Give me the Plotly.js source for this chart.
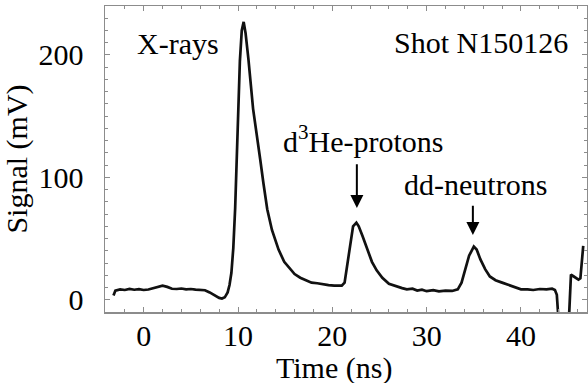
<!DOCTYPE html>
<html>
<head>
<meta charset="utf-8">
<script src="https://cdn.plot.ly/plotly-3.0.1.min.js"></script>
<style>html,body{margin:0;padding:0;background:#fff;}#chart{width:588px;height:383px;}</style>
</head>
<body>
<div id="chart"></div>
<script>
// Time (ns)
const timeNs = [-3.2,-3.0,-2.5,-2.0,-1.5,-1.0,-0.5,0,0.5,1.0,1.5,2.0,2.5,3.0,3.5,4.0,4.5,5.0,5.5,6.0,6.5,7.0,7.5,8.0,8.3,8.6,8.9,
  9.1,9.3,9.5,9.7,9.85,10.0,10.2,10.4,10.6,10.8,11.1,11.6,12.0,12.35,12.7,13.1,13.6,14.3,14.9,15.5,16.0,16.6,17.2,17.8,18.4,19.0,19.6,20.2,21.0,
  21.3,21.6,21.9,22.2,22.55,22.8,23.2,23.7,24.2,24.7,25.3,26.0,26.7,27.4,27.9,28.5,29.0,29.5,30.0,30.7,31.3,32.0,32.7,33.3,
  33.7,34.1,34.5,35.0,35.3,35.7,36.2,36.7,37.3,38.0,38.7,39.4,40.0,40.7,41.3,42.0,42.7,43.3,43.6,43.8,44.1,
  45.0,45.3,45.6,46.1,46.3,46.6];
// Signal (mV)
const signalMv = [3.5,7.5,8.5,8.0,8.8,8.2,8.6,8.0,8.4,9.5,10.5,11.5,10.5,9.0,8.8,9.2,8.5,8.8,8.3,8.0,7.8,6.0,3.5,1.5,1.0,2.0,6.0,
  12,22,42,75,110,155,195,220,227,218,197,156,132,115,95,74,57,41,31,25,21,18,16,14,13.5,12.5,12,11.5,11.5,
  14,30,48,60,63,60,52,41,31,24,18,13,11,9.5,8.5,9.0,7.5,8.2,7.0,7.8,6.8,7.5,7.2,8.5,
  14,25,36,43.5,41,33,25,19,16,14,12,10,8.5,8.5,8.0,8.8,8.5,9.0,8.0,4.0,-30,
  -30,20.5,19,16.5,17.5,44];

const xTickVals = [0,10,20,30,40];
const yTickVals = [0,100,200];
const labels = ["X-rays","Shot N150126","d<sup>3</sup>He-protons","dd-neutrons"];

const serif = "Liberation Serif";
const F = {family: serif, size: 30, color: "#000"};

const trace = {
  x: timeNs, y: signalMv, type: "scatter", mode: "lines",
  line: {color: "#111", width: 2.7, shape: "linear"},
  hoverinfo: "skip", showlegend: false
};

const axisCommon = {
  showgrid: false, zeroline: false, showline: true, linecolor: "#8c8c8c", linewidth: 1.5,
  mirror: "ticks", ticks: "inside", ticklen: 5, tickwidth: 1, tickcolor: "#8c8c8c",
  tickfont: F
};

const layout = {
  width: 588, height: 383,
  margin: {l: 105, r: 1, t: 6, b: 71},
  paper_bgcolor: "#fff", plot_bgcolor: "#fff",
  font: F,
  xaxis: Object.assign({}, axisCommon, {
    range: [-4.1, 47], tickmode: "array", tickvals: xTickVals,
    ticklabelstandoff: -4,
    minor: {dtick: 2, tick0: 0, ticks: "inside", ticklen: 3, tickcolor: "#8c8c8c", tickwidth: 1}
  }),
  yaxis: Object.assign({}, axisCommon, {
    range: [-10, 240], tickmode: "array", tickvals: yTickVals,
    ticklabelstandoff: 14,
    title: {text: "Signal (mV)", font: F, standoff: 3},
    minor: {dtick: 10, tick0: 0, ticks: "inside", ticklen: 3, tickcolor: "#8c8c8c", tickwidth: 1}
  }),
  annotations: [
    {xref: "paper", yref: "paper", x: 0.475, y: -0.183, yanchor: "middle", showarrow: false,
     text: "Time (ns)", font: F},
    {x: 3.6, y: 209, text: labels[0], showarrow: false, font: F},
    {x: 35.8, y: 210.5, text: labels[1], showarrow: false, font: F},
    {x: 23.3, y: 131, text: labels[2], showarrow: false, font: F},
    {x: 35.2, y: 94, text: labels[3], showarrow: false, font: F},
    {x: 22.6, y: 75, ax: 22.6, ay: 112, axref: "x", ayref: "y", text: "", showarrow: true,
     arrowhead: 2, arrowsize: 1.3, arrowwidth: 2, arrowcolor: "#000"},
    {x: 34.9, y: 53, ax: 34.9, ay: 78, axref: "x", ayref: "y", text: "", showarrow: true,
     arrowhead: 2, arrowsize: 1.3, arrowwidth: 2, arrowcolor: "#000"}
  ]
};

Plotly.newPlot("chart", [trace], layout, {staticPlot: true, displayModeBar: false});
</script>
</body>
</html>
